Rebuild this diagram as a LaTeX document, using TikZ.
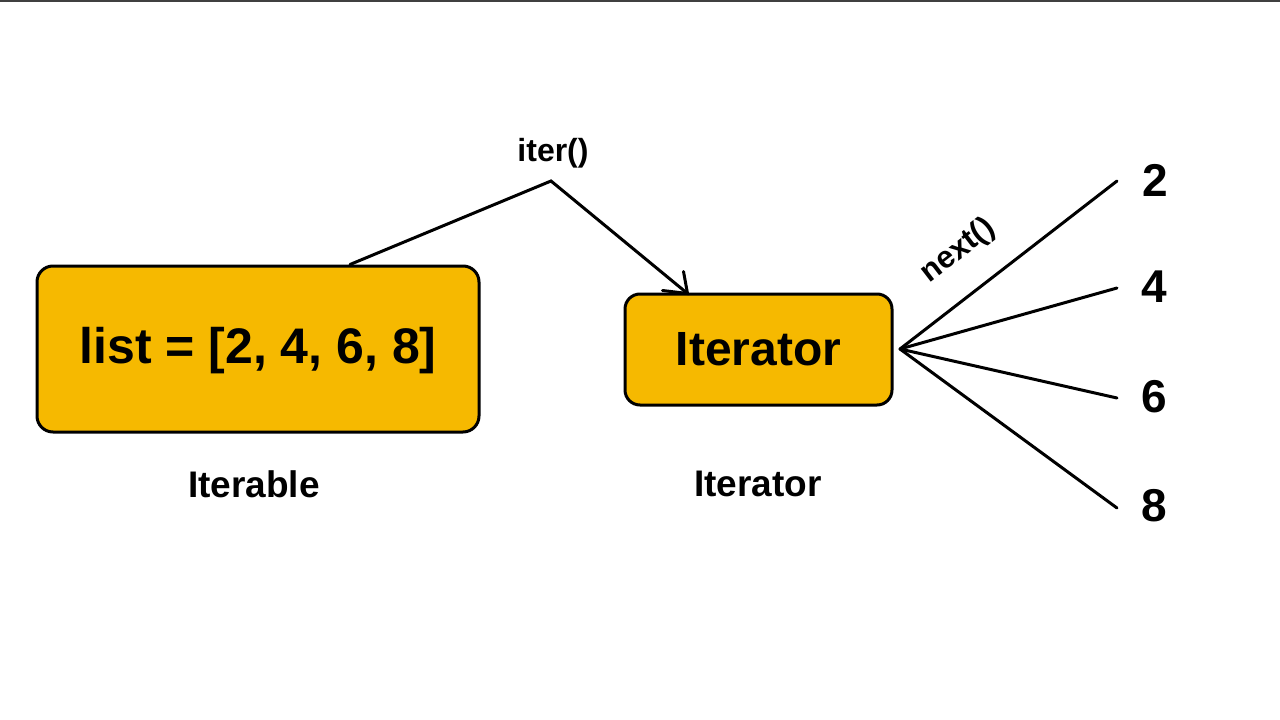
\documentclass[tikz,border=0pt]{standalone}
\usepackage{fontspec}
\setmainfont{Liberation Sans}
\definecolor{boxyellow}{HTML}{F6B900}
\begin{document}
\begin{tikzpicture}[x=1pt,y=-1pt,
  ybox/.style={draw=black, line width=3pt, fill=boxyellow, rounded corners=16pt, inner sep=0pt},
  captxt/.style={font=\bfseries\fontsize{37}{44}\selectfont},
  num/.style={font=\bfseries\fontsize{46}{54}\selectfont},
  conn/.style={line width=3pt, line cap=round, line join=miter}]
\useasboundingbox (0,0) rectangle (1280,720);
\fill[white] (0,0) rectangle (1280,720);
\draw[line width=2.5pt, black!75] (0,0.8) -- (1280,0.8);

\node[ybox, minimum width=442pt, minimum height=166pt, text depth=8pt, font=\bfseries\fontsize{50}{60}\selectfont] (list) at (258,349) {list = [2, 4, 6, 8]};
\node[ybox, minimum width=267pt, minimum height=111pt, rounded corners=15pt, text depth=2pt, font=\bfseries\fontsize{48}{58}\selectfont] (iter) at (758.5,349.5) {Iterator};

\node[captxt] (lblA) at (254,484) {Iterable};
\node[captxt] (lblB) at (758,484) {Iterator};

\coordinate (apex) at (551,181);
\coordinate (tip) at ([xshift=64pt,yshift=-1pt]iter.north west);
\node[font=\bfseries\fontsize{32}{38}\selectfont] (iterfn) at (553,153) {iter()};
\draw[conn] ([xshift=92pt]list.north) -- (apex) -- (tip);
\draw[conn] ([shift={(-25,-3)}]tip) -- (tip) -- ([shift={(-4,-22)}]tip);

\coordinate (src) at (900,349);
\coordinate (e2) at (1117,181);
\coordinate (e4) at (1117,288);
\coordinate (e6) at (1117,398);
\coordinate (e8) at (1117,508);
\node[num] (n2) at (1155,180) {2};
\node[num] (n4) at (1154,287) {4};
\node[num] (n6) at (1154,397) {6};
\node[num] (n8) at (1154,506) {8};
\draw[conn] (src) -- (e2);
\draw[conn] (src) -- (e4);
\draw[conn] (src) -- (e6);
\draw[conn] (src) -- (e8);
\node[font=\bfseries\fontsize{31}{36}\selectfont, rotate=37.5] (nextfn) at (958,251) {next()};
\end{tikzpicture}
\end{document}
